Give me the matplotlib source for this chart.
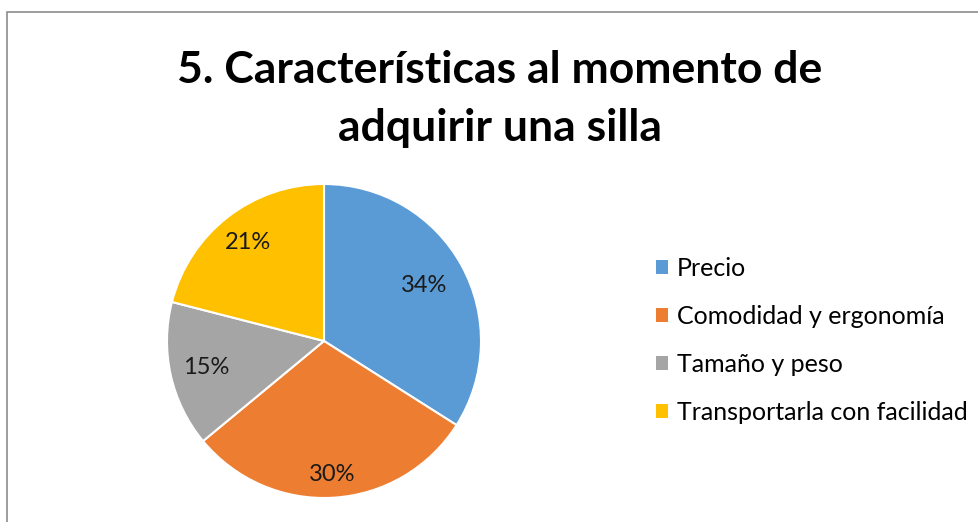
import matplotlib.pyplot as plt
from matplotlib.patches import Rectangle, Patch
import numpy as np

# Data
categories = ["Precio", "Comodidad y ergonomía", "Tamaño y peso",
              "Transportarla con facilidad"]
shares = [34, 30, 15, 21]
colors = ["#5B9BD5", "#ED7D31", "#A5A5A5", "#FFC000"]
title = "5. Características al momento de\nadquirir una silla"

# Excel "best fit" label radii (fraction of pie radius)
label_radius = [0.73, 0.85, 0.77, 0.79]

plt.rcParams["font.family"] = ["Lato", "DejaVu Sans"]

W, H = 979, 522
fig = plt.figure(figsize=(W / 100, H / 100), dpi=100)

# outer chart border (runs off the right and bottom edges)
fig.patches.append(Rectangle((7 / W, -0.1), 1.2, (H - 12) / H + 0.1,
                             transform=fig.transFigure, fill=False,
                             edgecolor="#8c8c8c", linewidth=1.2))

cx, cy, r = 324, H - 341, 157
ax = fig.add_axes([(cx - r) / W, (cy - r) / H, 2 * r / W, 2 * r / H])
wedges, _ = ax.pie(shares, colors=colors, startangle=90, counterclock=False,
                   wedgeprops=dict(edgecolor="white", linewidth=1.5))
ax.set_xlim(-1, 1)
ax.set_ylim(-1, 1)
ax.set_aspect("equal")

total = sum(shares)
for w, val, rr in zip(wedges, shares, label_radius):
    ang = np.deg2rad((w.theta1 + w.theta2) / 2)
    ax.text(rr * np.cos(ang), rr * np.sin(ang), f"{round(100 * val / total)}%",
            ha="center", va="center", fontsize=17, color="#1a1a1a")

fig.text(500 / W, 1 - 99 / H, title, ha="center", va="center",
         fontsize=32, fontweight="bold", color="black", linespacing=1.55)

handles = [Patch(facecolor=c, edgecolor="none") for c in colors]
fig.legend(handles, categories, loc="center left",
           bbox_to_anchor=(656 / W, 1 - 340 / H), frameon=False,
           fontsize=18, handlelength=0.5, handleheight=0.5,
           handletextpad=0.35, labelspacing=1.0, borderpad=0,
           borderaxespad=0)

fig.savefig("out.png", dpi=100)
